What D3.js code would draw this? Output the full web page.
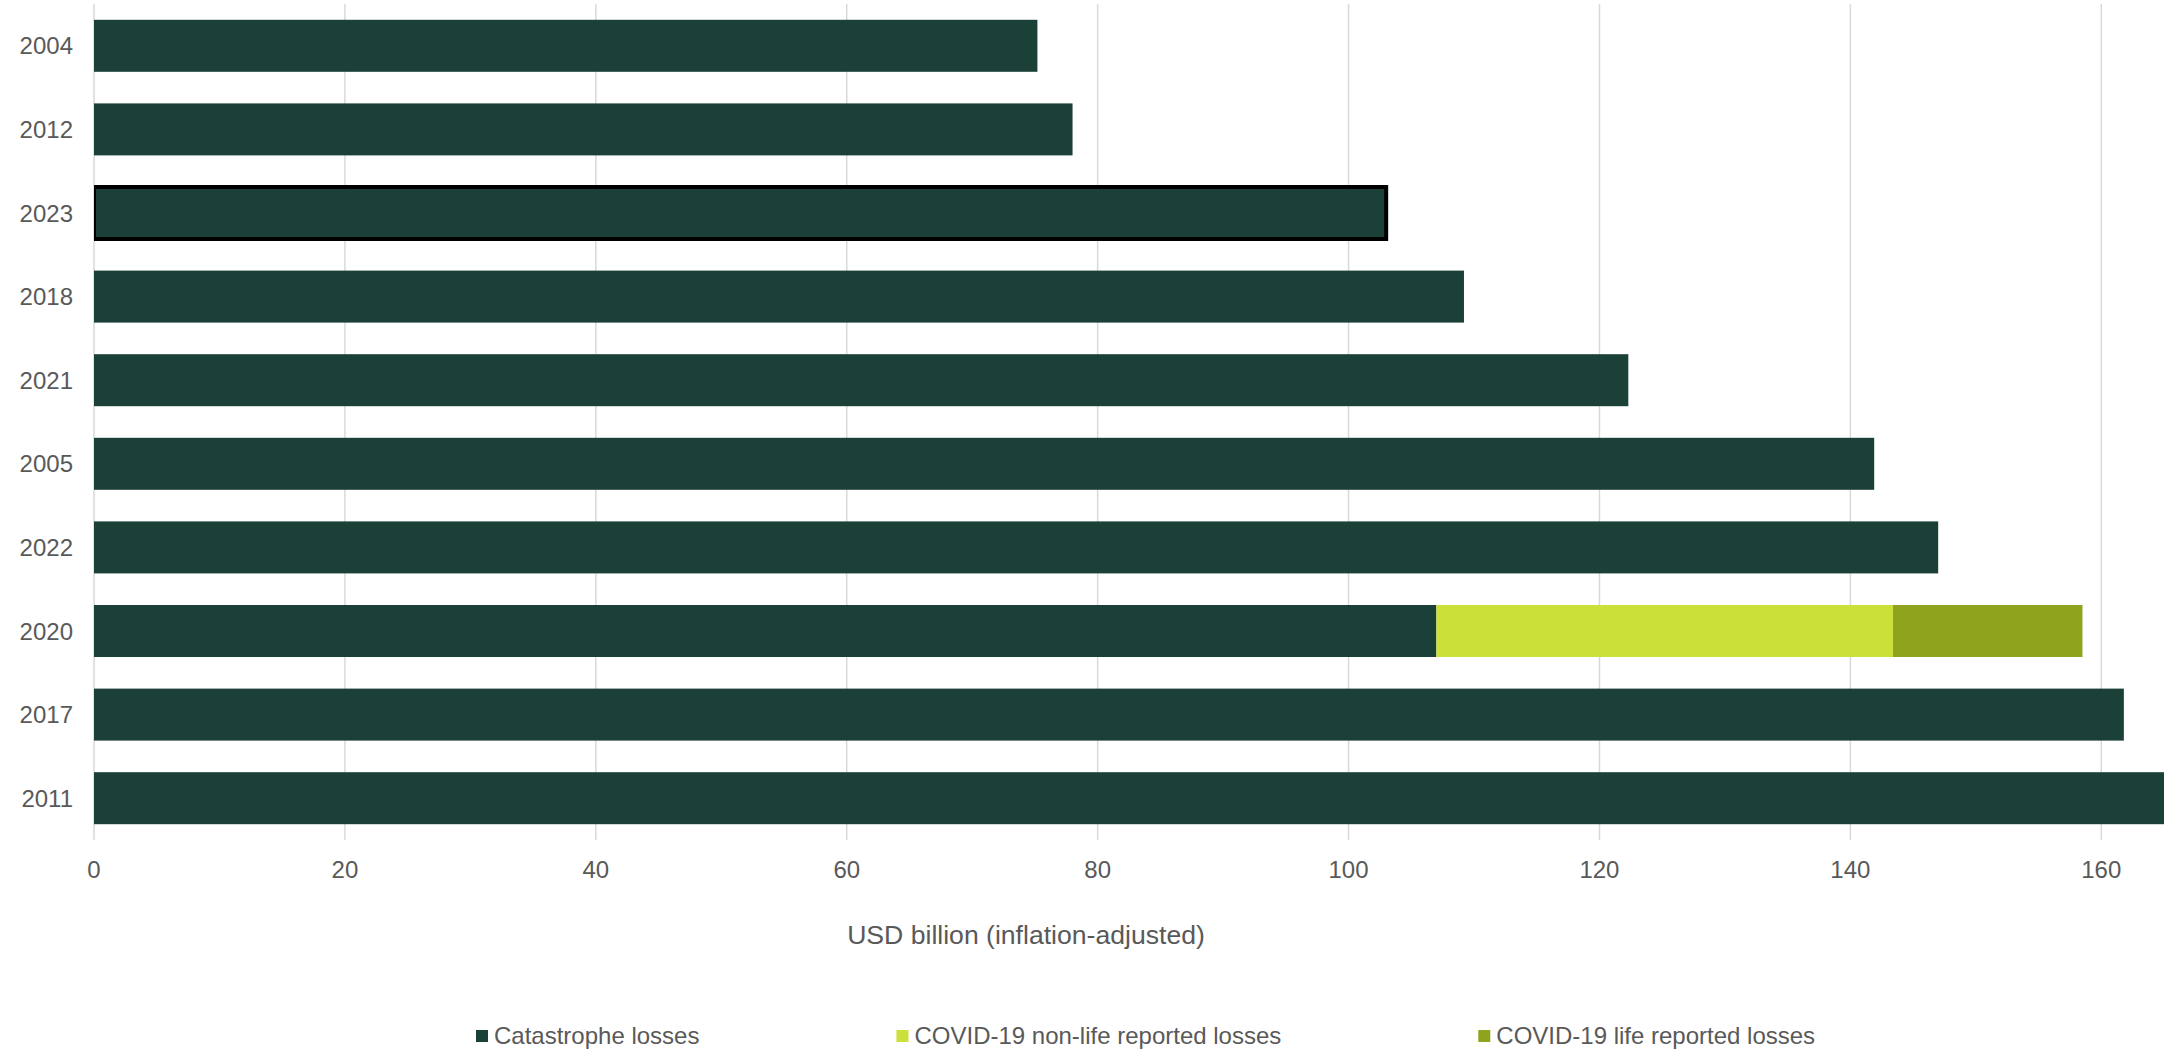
<!DOCTYPE html>
<html>
<head>
<meta charset="utf-8">
<script src="https://cdn.jsdelivr.net/npm/d3@7"></script>
<style>
  html, body { margin: 0; padding: 0; background: #fff; }
  svg { display: block; }
  text { font-family: "Liberation Sans", Arial, Helvetica, sans-serif; fill: #595959; }
</style>
</head>
<body>
<svg id="chart" width="2164" height="1052"></svg>
<script>
// Largest insured loss years, ranked (USD billion, inflation-adjusted)
const years = ["2004", "2012", "2023", "2018", "2021", "2005", "2022", "2020", "2017", "2011"];
const catastropheLosses = [75.2, 78.0, 103.0, 109.2, 122.3, 141.9, 147.0, 107.0, 161.8, 166.0];
const covidNonLifeLosses = [0, 0, 0, 0, 0, 0, 0, 36.4, 0, 0];
const covidLifeLosses = [0, 0, 0, 0, 0, 0, 0, 15.1, 0, 0];
const highlightYear = "2023";

const seriesKeys = ["cat", "nonlife", "life"];
const seriesNames = ["Catastrophe losses", "COVID-19 non-life reported losses", "COVID-19 life reported losses"];
const seriesColors = ["#1b4038", "#cbe038", "#8fa31c"];
const xTicks = [0, 20, 40, 60, 80, 100, 120, 140, 160];
const xTitle = "USD billion (inflation-adjusted)";

const rows = years.map((y, i) => ({
  year: y,
  cat: catastropheLosses[i],
  nonlife: covidNonLifeLosses[i],
  life: covidLifeLosses[i]
}));

const svg = d3.select("#chart");
const plot = { left: 94, right: 2164, top: 4, bottom: 840 };

const x = d3.scaleLinear().domain([0, 165]).range([plot.left, plot.right]);
const y = d3.scaleBand().domain(years).range([plot.top, plot.bottom])
  .paddingInner(0.378).paddingOuter(0.189);
const color = d3.scaleOrdinal().domain(seriesKeys).range(seriesColors);

svg.append("defs").append("clipPath").attr("id", "plotClip")
  .append("rect")
  .attr("x", plot.left).attr("y", 0)
  .attr("width", plot.right - plot.left).attr("height", plot.bottom + 10);

// vertical gridlines
svg.append("g").selectAll("line").data(xTicks).join("line")
  .attr("x1", d => x(d)).attr("x2", d => x(d))
  .attr("y1", plot.top).attr("y2", plot.bottom)
  .attr("stroke", "#d9d9d9").attr("stroke-width", 1.5);

// stacked bars
const stacked = d3.stack().keys(seriesKeys)(rows);
const barsG = svg.append("g").attr("clip-path", "url(#plotClip)");
barsG.selectAll("g").data(stacked).join("g")
  .attr("fill", d => color(d.key))
  .selectAll("rect").data(d => d.filter(s => s[1] - s[0] > 0)).join("rect")
  .attr("x", d => x(d[0]))
  .attr("y", d => y(d.data.year))
  .attr("width", d => x(d[1]) - x(d[0]))
  .attr("height", y.bandwidth());

// outline on the latest year
const hl = rows.find(r => r.year === highlightYear);
barsG.append("rect")
  .attr("x", x(0))
  .attr("y", y(hl.year))
  .attr("width", x(hl.cat + hl.nonlife + hl.life) - x(0))
  .attr("height", y.bandwidth())
  .attr("fill", "none")
  .attr("stroke", "#000")
  .attr("stroke-width", 4);

// category labels
svg.append("g").selectAll("text").data(years).join("text")
  .attr("x", 73)
  .attr("y", d => y(d) + y.bandwidth() / 2)
  .attr("dy", "0.36em")
  .attr("text-anchor", "end")
  .attr("font-size", 24)
  .text(d => d);

// x tick labels
svg.append("g").selectAll("text").data(xTicks).join("text")
  .attr("x", d => x(d))
  .attr("y", 877.5)
  .attr("text-anchor", "middle")
  .attr("font-size", 24)
  .text(d => d);

// axis title
svg.append("text")
  .attr("x", 1026).attr("y", 943.5)
  .attr("text-anchor", "middle")
  .attr("font-size", 26.6)
  .text(xTitle);

// legend
const legend = svg.append("g");
let lx = 476;
seriesKeys.forEach((k, i) => {
  const item = legend.append("g").attr("transform", `translate(${lx},0)`);
  item.append("rect").attr("x", 0).attr("y", 1030).attr("width", 12).attr("height", 12)
    .attr("fill", color(k));
  const t = item.append("text").attr("x", 18).attr("y", 1043.5)
    .attr("font-size", 24).text(seriesNames[i]);
  lx += 18 + t.node().getComputedTextLength() + 197;
});
</script>
</body>
</html>
